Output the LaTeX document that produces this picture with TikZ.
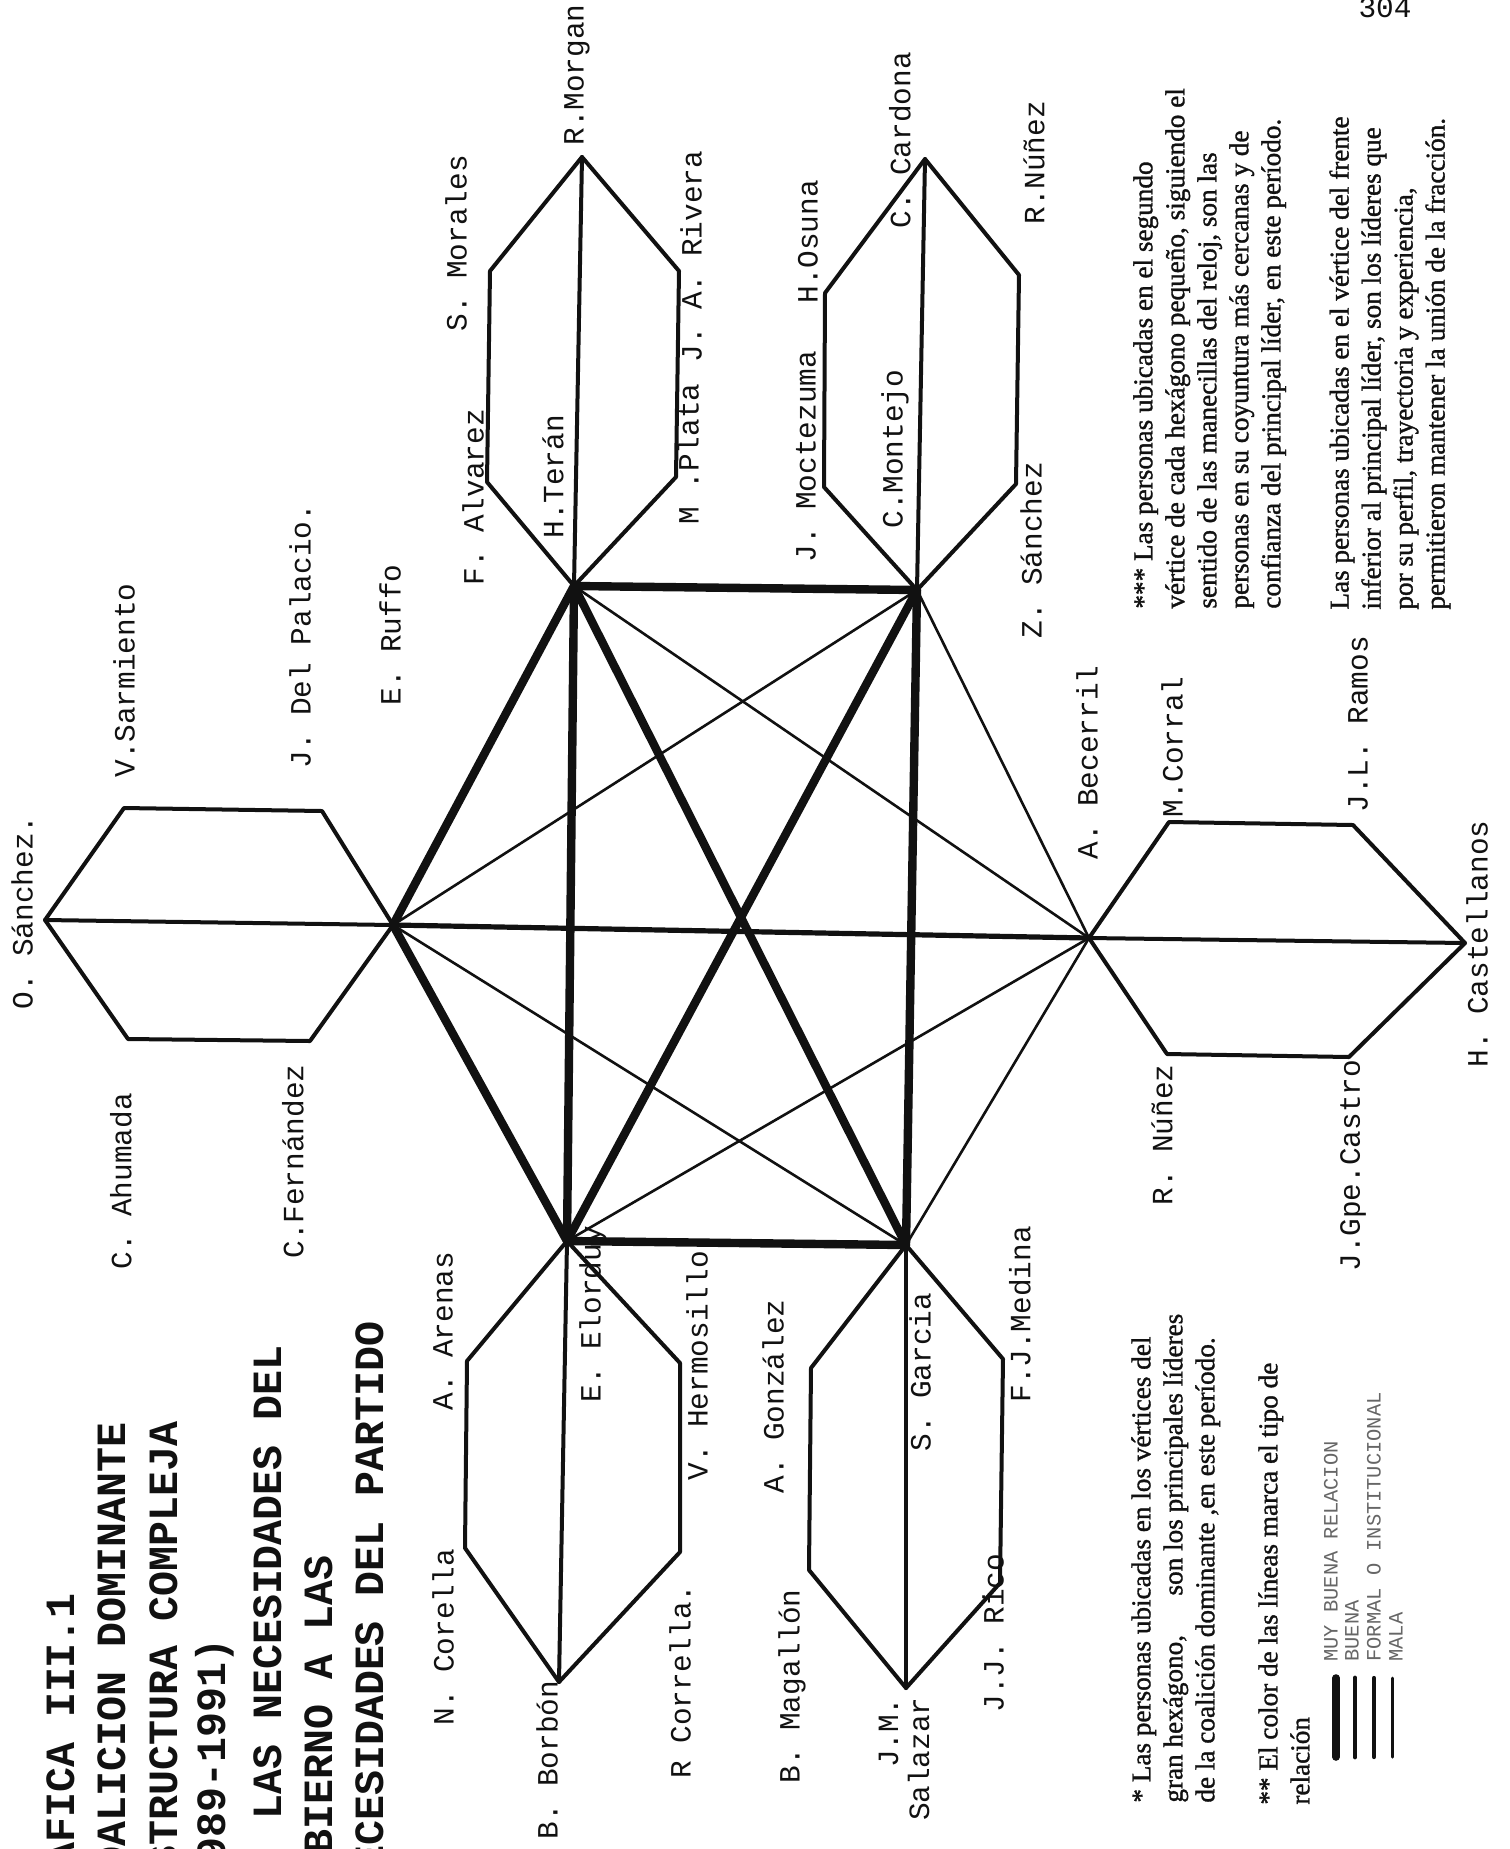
\documentclass[tikz,border=0pt]{standalone}
\usepackage{fontspec}
\setmainfont{Liberation Serif}
\setmonofont{Liberation Mono}
\newfontfamily\notafont{Liberation Serif}[FakeBold=1.2]
\usepackage{tikz}
\definecolor{ink}{HTML}{111111}
\definecolor{gris}{HTML}{666666}

\begin{document}
\begin{tikzpicture}[x=0.5pt, y=-0.5pt, line cap=round, line join=round, draw=ink, text=ink,
  nombre/.style={rotate=90, anchor=west, inner sep=0pt, font=\ttfamily\fontsize{14.7}{15.5}\selectfont},
  titulo/.style={rotate=90, anchor=west, inner sep=0pt, font=\ttfamily\bfseries\fontsize{20.8}{24}\selectfont},
  nota/.style={rotate=90, anchor=north west, inner sep=0pt, align=left, font=\notafont\fontsize{13.6}{16}\selectfont},
  leyenda/.style={rotate=90, anchor=west, inner sep=0pt, text=gris, font=\ttfamily\fontsize{10.2}{12}\selectfont},
  hexa/.style={line width=2pt},
  muybuena/.style={line width=4.2pt},
  buena/.style={line width=2.6pt},
  formal/.style={line width=1.3pt},
  mala/.style={line width=1.5pt}]
\path[use as bounding box, fill=white] (0,0) rectangle (1510,1849);
\clip (0,0) rectangle (1510,1849);

% vertices of the big hexagon
\coordinate (ruffo) at (393,925); \coordinate (teran) at (574,586); \coordinate (montejo) at (917,590);
\coordinate (becerril) at (1089,938); \coordinate (garcia) at (906,1245); \coordinate (elorduy) at (567,1241);
% small hexagons
\coordinate (morgan) at (582,157); \coordinate (morales) at (490,271); \coordinate (alvarez) at (487,482); \coordinate (rivera) at (679,271); \coordinate (plata) at (676,477);
\coordinate (cardona) at (925,159); \coordinate (osuna) at (825,293); \coordinate (moctezuma) at (824,487); \coordinate (rnunez) at (1019,275); \coordinate (zsanchez) at (1016,484);
\coordinate (osanchez) at (45,920); \coordinate (sarmiento) at (124,808); \coordinate (palacio) at (322,811); \coordinate (ahumada) at (128,1039); \coordinate (fernandez) at (310,1041);
\coordinate (castellanos) at (1465,943); \coordinate (corral) at (1169,822); \coordinate (ramos) at (1353,825); \coordinate (nunez) at (1167,1054); \coordinate (castro) at (1349,1057);
\coordinate (borbon) at (559,1682); \coordinate (arenas) at (467,1361); \coordinate (corella) at (465,1548); \coordinate (hermosillo) at (680,1363); \coordinate (corrella) at (680,1552);
\coordinate (salazar) at (906,1688); \coordinate (gonzalez) at (811,1368); \coordinate (magallon) at (809,1570); \coordinate (medina) at (1003,1359); \coordinate (rico) at (1000,1583);

\draw[hexa] (teran) -- (alvarez) -- (morales) -- (morgan) -- (rivera) -- (plata) -- cycle; \draw[hexa] (teran) -- (morgan);
\draw[hexa] (montejo) -- (moctezuma) -- (osuna) -- (cardona) -- (rnunez) -- (zsanchez) -- cycle; \draw[hexa] (montejo) -- (cardona);
\draw[hexa] (ruffo) -- (palacio) -- (sarmiento) -- (osanchez) -- (ahumada) -- (fernandez) -- cycle; \draw[hexa] (ruffo) -- (osanchez);
\draw[hexa] (becerril) -- (corral) -- (ramos) -- (castellanos) -- (castro) -- (nunez) -- cycle; \draw[hexa] (becerril) -- (castellanos);
\draw[hexa] (elorduy) -- (arenas) -- (corella) -- (borbon) -- (corrella) -- (hermosillo) -- cycle; \draw[hexa] (elorduy) -- (borbon);
\draw[hexa] (garcia) -- (gonzalez) -- (magallon) -- (salazar) -- (rico) -- (medina) -- cycle; \draw[hexa] (garcia) -- (salazar);

% relations
\draw[formal] (ruffo) -- (montejo); \draw[formal] (ruffo) -- (garcia);
\draw[formal] (becerril) -- (teran); \draw[formal] (becerril) -- (elorduy);
\draw[formal] (becerril) -- (montejo); \draw[formal] (becerril) -- (garcia);
\draw[buena] (ruffo) -- (becerril);
\draw[muybuena] (teran) -- (montejo); \draw[muybuena] (elorduy) -- (garcia);
\draw[muybuena] (ruffo) -- (teran); \draw[muybuena] (ruffo) -- (elorduy);
\draw[muybuena] (teran) -- (elorduy); \draw[muybuena] (montejo) -- (garcia);
\draw[muybuena] (teran) -- (garcia); \draw[muybuena] (montejo) -- (elorduy);

% names
\node[nombre] (tMorgan) at (577,146) {R.Morgan}; \node[nombre] (tMorales) at (456,332) {S. Morales};
\node[nombre] (tAlvarez) at (473,586) {F. Alvarez}; \node[nombre] (tTeran) at (553,539) {H.Terán};
\node[nombre] (tPlata) at (688,525) {M .Plata}; \node[nombre] (tRivera) at (691,363) {J. A.  Rivera};
\node[nombre] (tCardona) at (900,229) {C. Cardona}; \node[nombre] (tOsuna) at (808,304) {H.Osuna};
\node[nombre] (tRnunez) at (1034,225) {R.Núñez}; \node[nombre] (tMoctezuma) at (806,563) {J. Moctezuma};
\node[nombre] (tMontejo) at (895,529) {C.Montejo}; \node[nombre] (tZsanchez) at (1031,639) {Z. Sánchez};
\node[nombre] (tOsanchez) at (22,1010) {O. Sánchez.}; \node[nombre] (tSarmiento) at (124,778) {V.Sarmiento};
\node[nombre] (tPalacio) at (300,769) {J. Del Palacio.}; \node[nombre] (tRuffo) at (390,706) {E. Ruffo};
\node[nombre] (tAhumada) at (121,1270) {C. Ahumada}; \node[nombre] (tFernandez) at (293,1259) {C.Fernández};
\node[nombre] (tBecerril) at (1087,860) {A. Becerril}; \node[nombre] (tCorral) at (1172,818) {M.Corral};
\node[nombre] (tRamos) at (1358,813) {J.L. Ramos}; \node[nombre] (tCastellanos) at (1477,1068) {H. Castellanos};
\node[nombre] (tNunez) at (1162,1206) {R. Núñez}; \node[nombre] (tCastro) at (1353,1272) {J.Gpe.Castro};
\node[nombre] (tArenas) at (443,1411) {A. Arenas}; \node[nombre] (tCorella) at (443,1726) {N. Corella};
\node[nombre] (tBorbon) at (547,1840) {B. Borbón}; \node[nombre] (tElorduy) at (593,1403) {E. Elorduy};
\node[nombre] (tHermosillo) at (697,1481) {V. Hermosillo}; \node[nombre] (tCorrella) at (680,1779) {R Corrella.};
\node[nombre] (tGonzalez) at (773,1494) {A. González}; \node[nombre] (tMagallon) at (792,1784) {B. Magallón};
\node[nombre] (tGarcia) at (920,1452) {S.  Garcia}; \node[nombre] (tMedina) at (1020,1403) {F.J.Medina};
\node[nombre, anchor=east, align=right] (tSalazar) at (904,1697) {J.M.\\Salazar}; \node[nombre] (tRico) at (993,1713) {J.J. Rico};

% title
\node[titulo] (tit1) at (61,1918) {GRAFICA III.1};
\node[titulo] (tit2) at (112,1897) {COALICION DOMINANTE};
\node[titulo] (tit3) at (164,1896) {ESTRUCTURA COMPLEJA};
\node[titulo] (tit4) at (215,1913) {(1989-1991)};
\node[titulo] (tit5) at (268,1820) {LAS NECESIDADES DEL};
\node[titulo] (tit6) at (319,1905) {GOBIERNO A LAS};
\node[titulo] (tit7) at (370,1896) {NECESIDADES DEL PARTIDO};

\node[inner sep=0pt, anchor=base, font=\ttfamily\fontsize{14.7}{15.5}\selectfont] (pagina) at (1385,17) {304};

% notes
\node[nota] (notaA) at (1133,609) {*** Las personas ubicadas en el segundo\\ vértice de cada hexágono pequeño, siguiendo el\\ sentido de las manecillas del reloj, son las\\ personas en su coyuntura más cercanas y de\\ confianza del principal líder, en este período.};
\node[nota] (notaB) at (1329,610) {Las personas ubicadas en el vértice del frente\\ inferior al principal líder, son los líderes que\\ por su perfil, trayectoria y experiencia,\\ permitieron mantener la unión de la fracción.};
\node[nota] (notaC) at (1131,1803) {* Las personas ubicadas en los vértices del\\ gran hexágono,\hspace{1.2em} son los principales líderes\\ de la coalición dominante ,en este período.};
\node[nota] (notaD) at (1258,1805) {** El color de las líneas marca el tipo de\\ relación};

% legend
\coordinate (ley1a) at (1336,1678); \coordinate (ley1b) at (1336,1757);
\coordinate (ley2a) at (1355,1678); \coordinate (ley2b) at (1355,1757);
\coordinate (ley3a) at (1374,1678); \coordinate (ley3b) at (1374,1757);
\coordinate (ley4a) at (1392,1678); \coordinate (ley4b) at (1392,1757);
\draw[line width=3.8pt] (ley1a) -- (ley1b); \draw[line width=2.4pt] (ley2a) -- (ley2b);
\draw[line width=2.1pt] (ley3a) -- (ley3b); \draw[mala] (ley4a) -- (ley4b);
\node[leyenda] (ley1) at (1331,1662) {MUY BUENA RELACION}; \node[leyenda] (ley2) at (1352,1662) {BUENA};
\node[leyenda] (ley3) at (1374,1662) {FORMAL O INSTITUCIONAL}; \node[leyenda] (ley4) at (1396,1662) {MALA};
\end{tikzpicture}
\end{document}
